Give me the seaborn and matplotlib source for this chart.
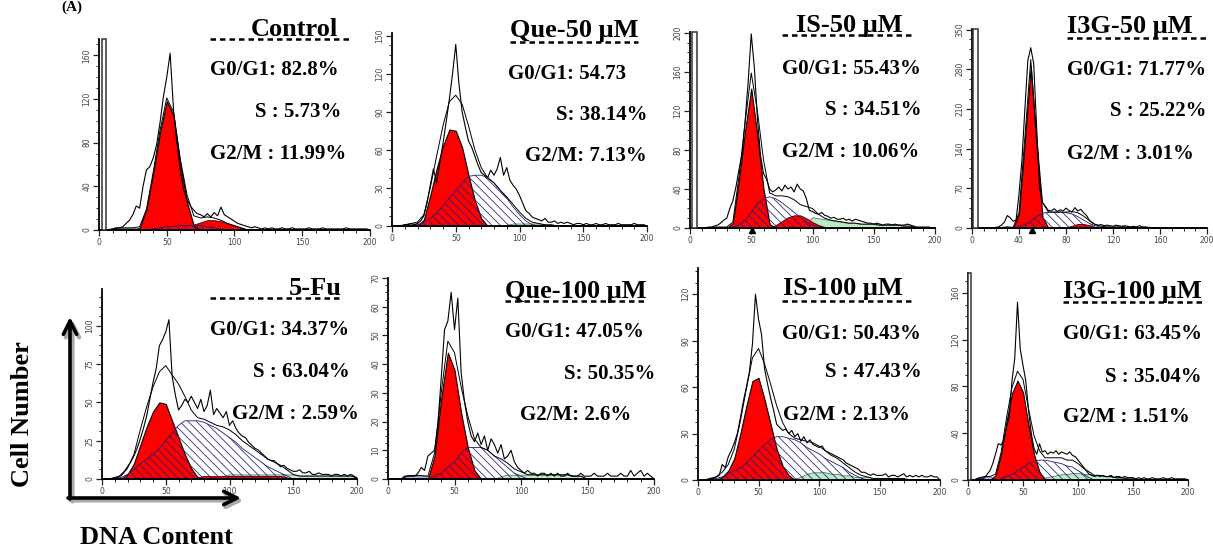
import numpy as np
import matplotlib
matplotlib.use("Agg")
import matplotlib.pyplot as plt
import seaborn as sns
from matplotlib.lines import Line2D
from matplotlib.patches import FancyArrowPatch, Rectangle
from matplotlib.ticker import MultipleLocator, AutoMinorLocator

# ---------------- data ----------------
TITLES = ["Control", "Que-50 μM", "IS-50 μM", "I3G-50 μM",
          "5-Fu", "Que-100 μM", "IS-100 μM", "I3G-100 μM"]
G1_TXT = ["G0/G1: 82.8%", "G0/G1: 54.73", "G0/G1: 55.43%", "G0/G1: 71.77%",
          "G0/G1: 34.37%", "G0/G1: 47.05%", "G0/G1: 50.43%", "G0/G1: 63.45%"]
S_TXT = ["S : 5.73%", "S: 38.14%", "S : 34.51%", "S : 25.22%",
         "S : 63.04%", "S: 50.35%", "S : 47.43%", "S : 35.04%"]
G2_TXT = ["G2/M : 11.99%", "G2/M: 7.13%", "G2/M : 10.06%", "G2/M : 3.01%",
          "G2/M : 2.59%", "G2/M: 2.6%", "G2/M : 2.13%", "G2/M : 1.51%"]
YMAX = [175, 152, 201, 351, 124, 70, 137, 177]
YSTEP = [40, 30, 40, 70, 25, 10, 30, 40]
XSTEP = [50, 50, 50, 40, 50, 50, 50, 50]

# DNA channel grids
X5 = np.arange(0, 201, 5)          # model components
X25 = np.arange(0, 200.01, 2.5)    # measured histogram

# measured histograms (2.5 channel steps)
CTRL_HIST = [0,0,0,0,1,2,2,3,6,9, 14,22,20,40,55,58,66,78,98,122,
             140,162,110,80,55,36,28,22,18,15, 14,12,15,12,16,13,21,14,12,10,
             8,6,5,4,3,2,3,2,1,2, 1,2,1,1,2,1,1,2,1,1,
             1,1,2,1,1,1,2,1,1,1, 1,1,1,2,1,1,1,1,1,1, 0]
Q50_HIST = [0,0,0,0,1,1,2,1,2,4, 8,18,32,45,34,50,65,82,100,120,
            143,112,90,78,67,62,55,48,42,40, 38,44,40,45,54,40,46,36,32,29,
            24,18,12,10,7,6,5,4,6,3, 3,4,2,3,2,3,2,1,2,2,
            1,2,1,1,2,1,1,2,1,1, 1,2,1,1,1,1,2,1,1,1, 0]
IS50_HIST = [0,0,0,0,0,0,1,1,2,3, 5,8,10,20,28,42,60,76,110,150,
             199,165,113,75,56,50,40,37,39,42, 38,44,40,42,37,45,40,38,30,18,
             17,15,14,16,13,12,10,11,9,9, 10,8,9,7,9,8,7,6,5,5,
             4,5,4,3,4,4,3,4,3,3, 3,4,3,2,1,1,1,1,1,0, 0]
I3G50_HIST = [0,0,0,0,0,0,0,0,1,2, 5,10,22,18,12,14,60,120,210,295,
              318,290,178,72,45,38,31,30,34,29, 32,30,35,31,28,36,30,33,27,22,
              13,9,6,5,6,4,5,4,3,5, 4,3,4,3,2,3,2,4,2,2,
              1,1,0,0,0,0,0,0,0,0, 0,0,0,0,0,0,0,0,0,0, 0]
FU_HIST = [0,0,0,0,1,1,3,5,8,11, 15,20,26,33,41,52,63,72,87,91,
           96,104,67,55,45,48,52,50,54,50, 46,52,44,48,58,42,46,43,40,44,
           35,38,33,30,28,27,24,22,20,19, 17,15,13,12,12,10,8,9,7,6,
           5,5,6,4,4,5,3,3,4,3, 3,3,2,3,3,2,3,2,3,2, 0]
Q100_HIST = [0,0,0,0,0,1,1,1,1,2, 4,3,8,9,10,19,35,52,55,65,
             52,63,37,27,20,15,13,16,12,15, 10,14,12,9,12,7,8,10,6,4,
             3,2,3,2,2,1,2,2,1,2, 1,2,1,1,2,1,1,1,2,1,
             1,1,2,1,1,1,2,1,1,1, 2,1,1,3,1,2,3,1,2,1, 0]
IS100_HIST = [0,0,0,0,1,1,2,3,10,8, 15,19,24,30,40,51,60,70,88,120,
              104,94,72,62,53,45,36,34,32,33, 30,32,28,30,25,28,24,26,23,22,
              21,22,19,18,17,16,15,14,13,11, 10,9,8,7,5,5,4,3,4,3,
              3,3,4,2,3,3,2,3,4,2, 3,2,3,2,3,2,2,3,2,2, 0]
I3G100_HIST = [0,0,0,0,1,1,2,5,8,14, 22,31,30,34,45,54,85,104,152,112,
               98,85,60,40,27,22,31,24,25,22, 24,23,25,22,24,23,22,24,21,20,
               17,14,11,8,5,4,3,4,3,4, 3,3,4,2,3,3,2,3,2,2,
               2,1,2,1,2,1,1,2,1,1, 1,2,1,1,2,1,1,1,1,1, 0]

# fitted components (5 channel steps): G0/G1 peak, S phase, G2/M peak, aggregates, debris
CTRL_G1 = [0,0,0,0,0,0,2,19,52,89, 118,105,60,25,4,0,0,0,0,0, 0,0,0,0,0,0,0,0,0,0, 0,0,0,0,0,0,0,0,0,0, 0]
CTRL_S = [0,0,0,0,0,0,0,0,1,2, 3,3,4,4,4,4,3,2,1,0, 0,0,0,0,0,0,0,0,0,0, 0,0,0,0,0,0,0,0,0,0, 0]
CTRL_G2 = [0,0,0,0,0,0,0,0,0,0, 0,0,1,3,5,7,9,9,8,6, 4,2,0,0,0,0,0,0,0,0, 0,0,0,0,0,0,0,0,0,0, 0]
CTRL_AGG = [0,0,0,0,0,0,0,0,0,0, 0,0,0,0,0,0,0,0,0,0, 0,0,0,0,0,0,0,0,0,0, 0,0,0,0,0,0,0,0,0,0, 0]
CTRL_DEB = [0,0,1,2,2,2,1,0,0,0, 0,0,0,0,0,0,0,0,0,0, 0,0,0,0,0,0,0,0,0,0, 0,0,0,0,0,0,0,0,0,0, 0]

Q50_G1 = [0,0,0,0,0,5,24,45,63,76, 75,62,40,20,6,0,0,0,0,0, 0,0,0,0,0,0,0,0,0,0, 0,0,0,0,0,0,0,0,0,0, 0]
Q50_S = [0,0,0,0,1,3,6,10,16,22, 28,34,39,40,40,38,34,28,22,15, 9,4,1,0,0,0,0,0,0,0, 0,0,0,0,0,0,0,0,0,0, 0]
Q50_G2 = [0,0,0,0,0,0,0,0,0,0, 0,0,0,0,0,0,0,0,0,0, 0,0,0,0,0,0,0,0,0,0, 0,0,0,0,0,0,0,0,0,0, 0]
Q50_AGG = [0,0,0,0,0,0,0,0,0,0, 0,0,0,0,0,0,0,0,1,2, 2,2,2,2,1,1,0,0,0,0, 0,0,0,0,0,0,0,0,0,0, 0]
Q50_DEB = [0,0,1,2,2,1,0,0,0,0, 0,0,0,0,0,0,0,0,0,0, 0,0,0,0,0,0,0,0,0,0, 0,0,0,0,0,0,0,0,0,0, 0]

IS50_G1 = [0,0,0,0,0,0,0,5,50,100, 143,95,40,4,0,0,0,0,0,0, 0,0,0,0,0,0,0,0,0,0, 0,0,0,0,0,0,0,0,0,0, 0]
IS50_S = [0,0,0,0,0,0,0,1,3,8, 16,25,30,32,30,26,21,16,11,6, 3,1,0,0,0,0,0,0,0,0, 0,0,0,0,0,0,0,0,0,0, 0]
IS50_G2 = [0,0,0,0,0,0,0,0,0,0, 0,0,0,0,3,7,11,13,13,10, 6,3,1,0,0,0,0,0,0,0, 0,0,0,0,0,0,0,0,0,0, 0]
IS50_AGG = [0,0,0,0,0,0,0,0,0,0, 0,0,0,0,0,0,0,0,0,6, 11,10,9,8,7,6,5,5,4,4, 4,3,3,3,3,2,2,0,0,0, 0]
IS50_DEB = [0,0,0,0,1,1,1,0,0,0, 0,0,0,0,0,0,0,0,0,0, 0,0,0,0,0,0,0,0,0,0, 0,0,0,0,0,0,0,0,0,0, 0]

I3G50_G1 = [0,0,0,0,0,0,0,0,25,154, 285,142,19,0,0,0,0,0,0,0, 0,0,0,0,0,0,0,0,0,0, 0,0,0,0,0,0,0,0,0,0, 0]
I3G50_S = [0,0,0,0,0,0,0,0,2,6, 12,20,26,28,28,28,27,25,20,14, 8,4,1,0,0,0,0,0,0,0, 0,0,0,0,0,0,0,0,0,0, 0]
I3G50_G2 = [0,0,0,0,0,0,0,0,0,0, 0,0,0,0,0,0,1,4,7,7, 5,2,0,0,0,0,0,0,0,0, 0,0,0,0,0,0,0,0,0,0, 0]
I3G50_AGG = [0,0,0,0,0,0,0,0,0,0, 0,0,0,0,0,0,0,0,0,0, 0,0,2,2,2,2,2,1,1,1, 1,0,0,0,0,0,0,0,0,0, 0]
I3G50_DEB = [0,0,0,0,0,1,2,1,0,0, 0,0,0,0,0,0,0,0,0,0, 0,0,0,0,0,0,0,0,0,0, 0,0,0,0,0,0,0,0,0,0, 0]

FU_G1 = [0,0,0,0,3,10,22,34,44,50, 49,38,27,16,7,1,0,0,0,0, 0,0,0,0,0,0,0,0,0,0, 0,0,0,0,0,0,0,0,0,0, 0]
FU_S = [0,0,0,1,3,6,10,13,16,20, 25,30,35,38,38,38,37,35,33,30, 27,24,20,17,14,11,8,6,4,2, 0,0,0,0,0,0,0,0,0,0, 0]
FU_G2 = [0,0,0,0,0,0,0,0,0,0, 0,0,0,0,0,1,2,2,2,2, 2,2,2,2,2,2,2,2,2,1, 0,0,0,0,0,0,0,0,0,0, 0]
FU_AGG = [0,0,0,0,0,0,0,0,0,0, 0,0,0,0,0,0,0,0,0,2, 3,3,3,3,3,3,3,3,3,3, 3,2,2,2,2,2,2,2,2,2, 1]
FU_DEB = [0,0,1,1,1,0,0,0,0,0, 0,0,0,0,0,0,0,0,0,0, 0,0,0,0,0,0,0,0,0,0, 0,0,0,0,0,0,0,0,0,0, 0]

Q100_G1 = [0,0,0,0,0,0,0,8,28,44, 38,23,11,3,0,0,0,0,0,0, 0,0,0,0,0,0,0,0,0,0, 0,0,0,0,0,0,0,0,0,0, 0]
Q100_S = [0,0,0,0,0,0,0,1,2,4, 6,9,11,11,11,10,8,6,4,2, 1,0,0,0,0,0,0,0,0,0, 0,0,0,0,0,0,0,0,0,0, 0]
Q100_G2 = [0,0,0,0,0,0,0,0,0,0, 0,0,0,0,0,0,0,0,0,0, 0,0,0,0,0,0,0,0,0,0, 0,0,0,0,0,0,0,0,0,0, 0]
Q100_AGG = [0,0,0,0,0,0,0,0,0,0, 0,0,0,0,0,0,0,1,1.5,1.5, 1.5,1.5,1.5,1.5,1.5,1.5,1.5,1.5,1,1, 0,0,0,0,0,0,0,0,0,0, 0]
Q100_DEB = [0,0,0,1.2,1.2,1.2,1,0,0,0, 0,0,0,0,0,0,0,0,0,0, 0,0,0,0,0,0,0,0,0,0, 0,0,0,0,0,0,0,0,0,0, 0]

IS100_G1 = [0,0,0,0,2,6,14,30,48,64, 66,52,36,20,9,3,0,0,0,0, 0,0,0,0,0,0,0,0,0,0, 0,0,0,0,0,0,0,0,0,0, 0]
IS100_S = [0,0,0,1,2,4,6,8,11,15, 19,23,26,28,28,27,26,24,21,19, 17,14,12,10,8,5,3,1,0,0, 0,0,0,0,0,0,0,0,0,0, 0]
IS100_G2 = [0,0,0,0,0,0,0,0,0,0, 0,0,0,0,0,0,0,0,0,0, 0,0,0,0,0,0,0,0,0,0, 0,0,0,0,0,0,0,0,0,0, 0]
IS100_AGG = [0,0,0,0,0,0,0,0,0,0, 0,0,0,0,0,0,1,2,4,5, 5,5,4,4,3,3,2,2,2,1, 1,1,1,1,1,0,0,0,0,0, 0]
IS100_DEB = [0,0,1,1,1,0,0,0,0,0, 0,0,0,0,0,0,0,0,0,0, 0,0,0,0,0,0,0,0,0,0, 0,0,0,0,0,0,0,0,0,0, 0]

I3G100_G1 = [0,0,0,0,0,4,22,50,74,85, 75,47,22,7,0,0,0,0,0,0, 0,0,0,0,0,0,0,0,0,0, 0,0,0,0,0,0,0,0,0,0, 0]
I3G100_S = [0,0,0,0,0,0,1,3,5,8, 11,14,16,17,17,16,15,14,12,11, 8,5,2,0,0,0,0,0,0,0, 0,0,0,0,0,0,0,0,0,0, 0]
I3G100_G2 = [0,0,0,0,0,0,0,0,0,0, 0,0,0,0,0,0,0,0,0,0, 0,0,0,0,0,0,0,0,0,0, 0,0,0,0,0,0,0,0,0,0, 0]
I3G100_AGG = [0,0,0,0,0,0,0,0,0,0, 0,0,0,1,2,3,4,5,5,6, 6,5,5,4,4,3,3,2,2,1, 1,0,0,0,0,0,0,0,0,0, 0]
I3G100_DEB = [0,0,2,3,3,1,0,0,0,0, 0,0,0,0,0,0,0,0,0,0, 0,0,0,0,0,0,0,0,0,0, 0,0,0,0,0,0,0,0,0,0, 0]

HISTS = [CTRL_HIST, Q50_HIST, IS50_HIST, I3G50_HIST, FU_HIST, Q100_HIST, IS100_HIST, I3G100_HIST]
G1S = [CTRL_G1, Q50_G1, IS50_G1, I3G50_G1, FU_G1, Q100_G1, IS100_G1, I3G100_G1]
SS = [CTRL_S, Q50_S, IS50_S, I3G50_S, FU_S, Q100_S, IS100_S, I3G100_S]
G2S = [CTRL_G2, Q50_G2, IS50_G2, I3G50_G2, FU_G2, Q100_G2, IS100_G2, I3G100_G2]
AGGS = [CTRL_AGG, Q50_AGG, IS50_AGG, I3G50_AGG, FU_AGG, Q100_AGG, IS100_AGG, I3G100_AGG]
DEBS = [CTRL_DEB, Q50_DEB, IS50_DEB, I3G50_DEB, FU_DEB, Q100_DEB, IS100_DEB, I3G100_DEB]

# gate bars and peak markers (channel)
GATE = [(2, 5), None, (1.5, 5.5), (1, 5), None, None, None, (0, 2.5)]
PEAK_MARK = [None, None, 51, 51, None, None, None, None]

# ---------------- layout (pixels) ----------------
W, H = 1213, 554
AX_BOX = [(99, 370, 230, 39), (392, 647, 226, 33), (690, 935, 228, 32), (972, 1207, 228, 29),
          (102, 357, 479, 289), (388, 654, 479, 278), (698, 940, 480, 268), (968, 1188, 480, 273)]
TITLE_POS = [(338, 36), (638, 37), (903, 32), (1193, 33), (342, 295), (647, 298), (903, 295), (1202, 298)]
LINE_POS = [(210, 350, 39), (510, 638, 42), (782, 913, 35), (1067, 1207, 38),
            (210, 342, 298), (505, 645, 301), (782, 913, 301), (1063, 1202, 302)]
G1_POS = [(210, 75), (508, 79), (782, 74), (1067, 75), (210, 335), (505, 337), (782, 339), (1063, 339)]
S_POS = [(341, 117), (648, 120), (922, 115), (1207, 116), (350, 377), (655, 379), (922, 377), (1202, 382)]
G2_POS = [(210, 159), (525, 161), (782, 157), (1067, 159), (232, 419), (520, 420), (783, 420), (1063, 422)]

sns.set_theme(style="white")
SERIF = ["Liberation Serif", "DejaVu Serif"]
plt.rcParams["font.family"] = SERIF
plt.rcParams["text.color"] = "black"
plt.rcParams["hatch.linewidth"] = 0.55

fig = plt.figure(figsize=(W / 100, H / 100), dpi=100)


def fx(x):
    return x / W


def fy(y):
    return 1 - y / H


RED = "#ff0000"
NAVY = "#1f1f78"
GREEN = "#b6ecc6"
LAV = "#b4b4e2"

for i in range(8):
    L, R, B, T = AX_BOX[i]
    ax = fig.add_axes([fx(L), fy(B), (R - L) / W, (B - T) / H])
    hist = np.array(HISTS[i], dtype=float)
    g1 = np.array(G1S[i], dtype=float)
    s = np.array(SS[i], dtype=float)
    g2 = np.array(G2S[i], dtype=float)
    agg = np.array(AGGS[i], dtype=float)
    deb = np.array(DEBS[i], dtype=float)
    assert len(hist) == len(X25), (i, len(hist))
    for arr in (g1, s, g2, agg, deb):
        assert len(arr) == len(X5), (i, len(arr))

    ax.fill_between(X5, 0, deb, facecolor=LAV, edgecolor="#555588", linewidth=0.5)
    ax.fill_between(X5, 0, agg, facecolor=GREEN, edgecolor="#446644", linewidth=0.5)
    ax.fill_between(X5, 0, g2, facecolor=RED, edgecolor="#330000", linewidth=0.6)
    ax.fill_between(X5, 0, g1, facecolor=RED, edgecolor="black", linewidth=0.8)
    ax.fill_between(X5, 0, s, facecolor="none", edgecolor=NAVY, hatch="\\\\\\\\", linewidth=0.6)

    fit = deb + agg + g1 + s + g2
    sns.lineplot(x=X5, y=fit, ax=ax, color="black", linewidth=0.7, legend=False)
    sns.lineplot(x=X25, y=hist, ax=ax, color="black", linewidth=0.8, legend=False)

    if GATE[i] is not None:
        g0, g1x = GATE[i]
        ax.add_patch(Rectangle((g0, 0), g1x - g0, YMAX[i], facecolor="white",
                               edgecolor="#333333", linewidth=1.1, clip_on=False, zorder=5))
    if PEAK_MARK[i] is not None:
        ax.plot([PEAK_MARK[i]], [-0.012 * YMAX[i]], marker="^", color="black",
                markersize=5, clip_on=False, zorder=6)

    ax.set_xlim(0, 200)
    ax.set_ylim(0, YMAX[i])
    ax.set_xlabel("")
    ax.set_ylabel("")
    for side in ("top", "right"):
        ax.spines[side].set_visible(False)
    for side in ("left", "bottom"):
        ax.spines[side].set_color("black")
        ax.spines[side].set_linewidth(1.3)
    ax.xaxis.set_major_locator(MultipleLocator(XSTEP[i]))
    ax.xaxis.set_minor_locator(MultipleLocator(10))
    ax.yaxis.set_major_locator(MultipleLocator(YSTEP[i]))
    ax.yaxis.set_minor_locator(AutoMinorLocator(4))
    ax.tick_params(which="major", direction="out", length=4, width=0.9, color="#222222",
                   labelsize=5.5, labelcolor="#444444", pad=1.5, bottom=True, left=True)
    ax.tick_params(which="minor", direction="out", length=2.5, width=0.7, color="#222222",
                   bottom=True, left=True)
    for lab in ax.get_xticklabels() + ax.get_yticklabels():
        lab.set_family("DejaVu Sans")
    for lab in ax.get_yticklabels():
        lab.set_rotation(90)
        lab.set_va("center")
    ax.set_facecolor("white")
    ax.patch.set_alpha(0)

    # labels
    tx, ty = TITLE_POS[i]
    fig.text(fx(tx), fy(ty), TITLES[i], fontsize=19, fontweight="bold", ha="right",
             va="baseline", family=SERIF, color="black")
    x0, x1, ly = LINE_POS[i]
    fig.add_artist(Line2D([fx(x0), fx(x1)], [fy(ly), fy(ly)], transform=fig.transFigure,
                          color="black", linewidth=1.8, linestyle=(0, (2.2, 1.6))))
    gx, gy = G1_POS[i]
    fig.text(fx(gx), fy(gy), G1_TXT[i], fontsize=15, fontweight="bold", ha="left",
             va="baseline", family=SERIF, color="black")
    sx, sy = S_POS[i]
    fig.text(fx(sx), fy(sy), S_TXT[i], fontsize=15, fontweight="bold", ha="right",
             va="baseline", family=SERIF, color="black")
    mx, my = G2_POS[i]
    fig.text(fx(mx), fy(my), G2_TXT[i], fontsize=15, fontweight="bold", ha="left",
             va="baseline", family=SERIF, color="black")

# axis arrows (shadow + arrow)
for col, off, lw in (("#aaaaaa", 2.5, 3.0), ("black", 0, 2.6)):
    fig.add_artist(FancyArrowPatch((fx(70 + off), fy(499 + off)), (fx(70 + off), fy(317 + off)),
                                   transform=fig.transFigure, arrowstyle="->", mutation_scale=24,
                                   linewidth=lw, color=col, shrinkA=0, shrinkB=0))
    fig.add_artist(FancyArrowPatch((fx(68 + off), fy(498 + off)), (fx(241 + off), fy(498 + off)),
                                   transform=fig.transFigure, arrowstyle="->", mutation_scale=24,
                                   linewidth=lw, color=col, shrinkA=0, shrinkB=0))

fig.text(fx(23), fy(414), "Cell Number", rotation=90, fontsize=19, fontweight="bold",
         ha="center", va="center", family=SERIF, color="black")
fig.text(fx(156), fy(544), "DNA Content", fontsize=19, fontweight="bold",
         ha="center", va="baseline", family=SERIF, color="black")
fig.text(fx(72), fy(1), "(A)", fontsize=11, fontweight="bold", ha="center",
         va="top", family=SERIF, color="black")

fig.savefig("out.png", dpi=100, facecolor="white")
